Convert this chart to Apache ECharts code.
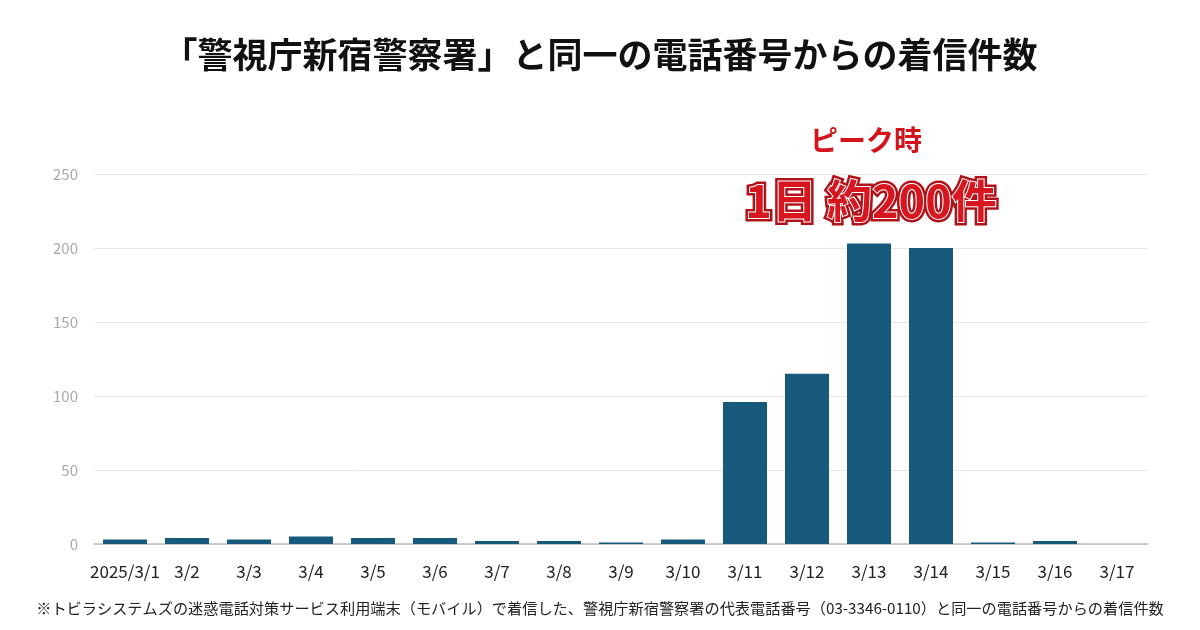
<!DOCTYPE html>
<html><head><meta charset="utf-8">
<script src="https://cdn.jsdelivr.net/npm/echarts@6/dist/echarts.min.js"></script>
<style>html,body{margin:0;padding:0;background:#fff}#c{width:1200px;height:630px}</style>
</head><body><div id="c"></div>
<script>
const categories = ['2025/3/1','3/2','3/3','3/4','3/5','3/6','3/7','3/8','3/9','3/10','3/11','3/12','3/13','3/14','3/15','3/16','3/17'];
const calls = [3,4,3,5,4,4,2,2,1,3,96,115,203,200,1,2,0];
const yTicks = [0,50,100,150,200,250];
const titleText = '「警視庁新宿警察署」と同一の電話番号からの着信件数';
const noteText = '※トビラシステムズの迷惑電話対策サービス利用端末（モバイル）で着信した、警視庁新宿警察署の代表電話番号（03-3346-0110）と同一の電話番号からの着信件数';
const peakLabel = 'ピーク時';
const peakValue = '1日 約200件';

const font = '"Noto Sans CJK JP", "Noto Sans", sans-serif';
const chart = echarts.init(document.getElementById('c'), null, {renderer:'canvas'});
chart.setOption({
  backgroundColor:'#fff',
  animation:false,
  title:{text:titleText,left:'center',top:32,textStyle:{fontFamily:font,fontSize:35,fontWeight:'bold',color:'#111'}},
  grid:{left:94,right:52,top:174,bottom:86},
  xAxis:{type:'category',data:categories,
    axisLine:{lineStyle:{color:'#bdbdbd',width:1.5}},axisTick:{show:false},
    axisLabel:{color:'#222',fontSize:17,fontFamily:font,margin:19,interval:0}},
  yAxis:{type:'value',min:yTicks[0],max:yTicks[yTicks.length-1],interval:50,
    axisLine:{show:false},axisTick:{show:false},
    splitLine:{lineStyle:{color:'#e8e8e8',width:1}},
    axisLabel:{color:'#aaaaaa',fontSize:15,fontFamily:font,margin:16}},
  series:[{type:'bar',data:calls,barWidth:44,itemStyle:{color:'#185a7b'}}],
  graphic:[
    {type:'text',position:[866,140],style:{text:peakLabel,x:0,y:0,textAlign:'center',textVerticalAlign:'middle',font:'bold 28px '+font,fill:'#d3141d'}},
    {type:'text',position:[871,201],style:{text:peakValue,x:0,y:0,textAlign:'center',textVerticalAlign:'middle',font:'bold 45px '+font,fill:'#c8141c',stroke:'#b0121a',lineWidth:7}},
    {type:'text',position:[871,201],style:{text:peakValue,x:0,y:0,textAlign:'center',textVerticalAlign:'middle',font:'bold 45px '+font,fill:'#d7161f',stroke:'#ffffff',lineWidth:2}},
    {type:'text',position:[600,608],style:{text:noteText,x:0,y:0,textAlign:'center',textVerticalAlign:'middle',font:'15.2px '+font,fill:'#222'}}
  ]
});
</script></body></html>
